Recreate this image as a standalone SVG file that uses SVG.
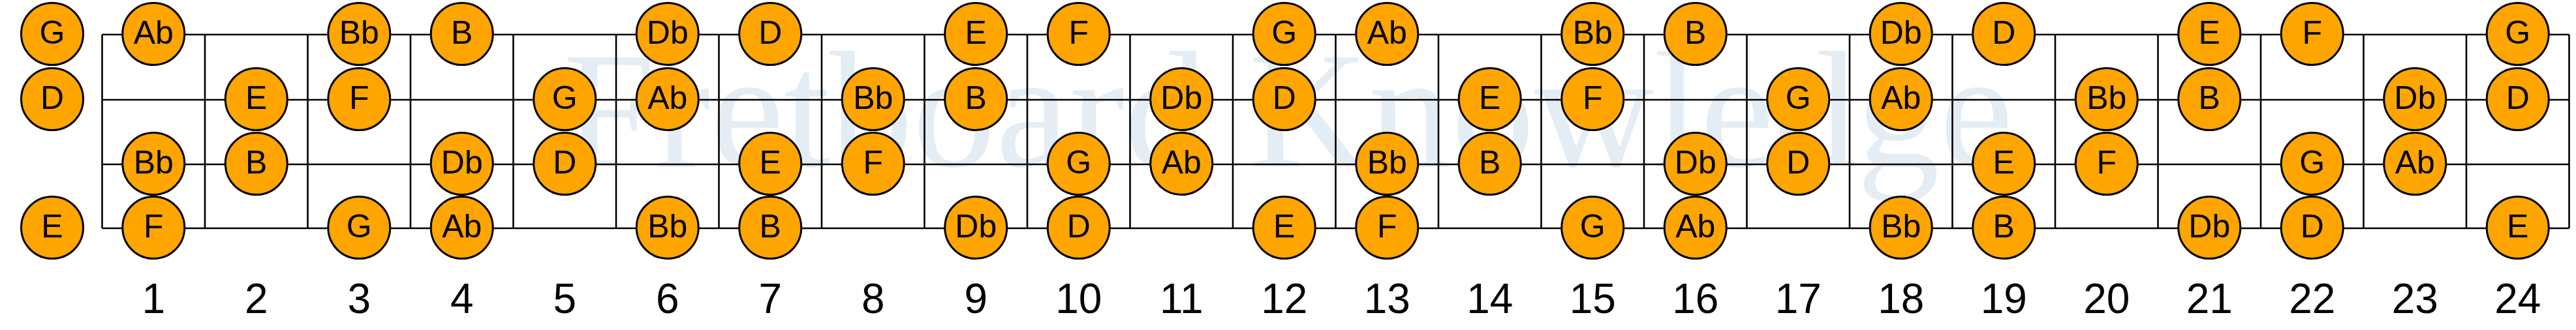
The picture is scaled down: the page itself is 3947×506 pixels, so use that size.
<svg xmlns="http://www.w3.org/2000/svg" width="3947" height="506" viewBox="0 0 3947 506">
<style>
.wm{font-family:"Liberation Serif","Times New Roman",serif;font-size:254px;fill:#e4edf4;text-anchor:middle}
.ln{stroke:#000;stroke-width:2.6;fill:none}
.nd circle{fill:#FFA500;stroke:#000;stroke-width:3}
.nd text{font-family:"Liberation Sans",Arial,sans-serif;font-size:50px;fill:#000;text-anchor:middle}
.num{font-family:"Liberation Sans",Arial,sans-serif;font-size:64px;fill:#000;text-anchor:middle}
</style>
<rect width="3947" height="506" fill="#fff"/>
<text class="wm" x="1973.5" y="255">Fretboard Knowledge</text>
<g id="connectors" class="ln">
<path d="M156.5 53H3936.5M156.5 153H3936.5M156.5 252H3936.5M156.5 350H3936.5"/>
<path d="M156.5 53V350M314 53V350M471.5 53V350M629 53V350M786.5 53V350M944 53V350M1101.5 53V350M1259 53V350M1416.5 53V350M1574 53V350M1731.5 53V350M1889 53V350M2046.5 53V350M2204 53V350M2361.5 53V350M2519 53V350M2676.5 53V350M2834 53V350M2991.5 53V350M3149 53V350M3306.5 53V350M3464 53V350M3621.5 53V350M3779 53V350M3936.5 53V350"/>
</g>
<g id="nodes" class="nd">
<g id="s1-f0"><circle cx="80" cy="52" r="47.5"/><text x="80" y="67">G</text></g>
<g id="s2-f0"><circle cx="80" cy="152" r="47.5"/><text x="80" y="167">D</text></g>
<g id="s4-f0"><circle cx="80" cy="349" r="47.5"/><text x="80" y="364">E</text></g>

<g id="s1-f1"><circle cx="235.25" cy="52" r="47.5"/><text x="235.25" y="67">Ab</text></g>
<g id="s1-f3"><circle cx="550.25" cy="52" r="47.5"/><text x="550.25" y="67">Bb</text></g>
<g id="s1-f4"><circle cx="707.75" cy="52" r="47.5"/><text x="707.75" y="67">B</text></g>
<g id="s1-f6"><circle cx="1022.75" cy="52" r="47.5"/><text x="1022.75" y="67">Db</text></g>
<g id="s1-f7"><circle cx="1180.25" cy="52" r="47.5"/><text x="1180.25" y="67">D</text></g>
<g id="s1-f9"><circle cx="1495.25" cy="52" r="47.5"/><text x="1495.25" y="67">E</text></g>
<g id="s1-f10"><circle cx="1652.75" cy="52" r="47.5"/><text x="1652.75" y="67">F</text></g>
<g id="s1-f12"><circle cx="1967.75" cy="52" r="47.5"/><text x="1967.75" y="67">G</text></g>
<g id="s1-f13"><circle cx="2125.25" cy="52" r="47.5"/><text x="2125.25" y="67">Ab</text></g>
<g id="s1-f15"><circle cx="2440.25" cy="52" r="47.5"/><text x="2440.25" y="67">Bb</text></g>
<g id="s1-f16"><circle cx="2597.75" cy="52" r="47.5"/><text x="2597.75" y="67">B</text></g>
<g id="s1-f18"><circle cx="2912.75" cy="52" r="47.5"/><text x="2912.75" y="67">Db</text></g>
<g id="s1-f19"><circle cx="3070.25" cy="52" r="47.5"/><text x="3070.25" y="67">D</text></g>
<g id="s1-f21"><circle cx="3385.25" cy="52" r="47.5"/><text x="3385.25" y="67">E</text></g>
<g id="s1-f22"><circle cx="3542.75" cy="52" r="47.5"/><text x="3542.75" y="67">F</text></g>
<g id="s1-f24"><circle cx="3857.75" cy="52" r="47.5"/><text x="3857.75" y="67">G</text></g>

<g id="s2-f2"><circle cx="392.75" cy="152" r="47.5"/><text x="392.75" y="167">E</text></g>
<g id="s2-f3"><circle cx="550.25" cy="152" r="47.5"/><text x="550.25" y="167">F</text></g>
<g id="s2-f5"><circle cx="865.25" cy="152" r="47.5"/><text x="865.25" y="167">G</text></g>
<g id="s2-f6"><circle cx="1022.75" cy="152" r="47.5"/><text x="1022.75" y="167">Ab</text></g>
<g id="s2-f8"><circle cx="1337.75" cy="152" r="47.5"/><text x="1337.75" y="167">Bb</text></g>
<g id="s2-f9"><circle cx="1495.25" cy="152" r="47.5"/><text x="1495.25" y="167">B</text></g>
<g id="s2-f11"><circle cx="1810.25" cy="152" r="47.5"/><text x="1810.25" y="167">Db</text></g>
<g id="s2-f12"><circle cx="1967.75" cy="152" r="47.5"/><text x="1967.75" y="167">D</text></g>
<g id="s2-f14"><circle cx="2282.75" cy="152" r="47.5"/><text x="2282.75" y="167">E</text></g>
<g id="s2-f15"><circle cx="2440.25" cy="152" r="47.5"/><text x="2440.25" y="167">F</text></g>
<g id="s2-f17"><circle cx="2755.25" cy="152" r="47.5"/><text x="2755.25" y="167">G</text></g>
<g id="s2-f18"><circle cx="2912.75" cy="152" r="47.5"/><text x="2912.75" y="167">Ab</text></g>
<g id="s2-f20"><circle cx="3227.75" cy="152" r="47.5"/><text x="3227.75" y="167">Bb</text></g>
<g id="s2-f21"><circle cx="3385.25" cy="152" r="47.5"/><text x="3385.25" y="167">B</text></g>
<g id="s2-f23"><circle cx="3700.25" cy="152" r="47.5"/><text x="3700.25" y="167">Db</text></g>
<g id="s2-f24"><circle cx="3857.75" cy="152" r="47.5"/><text x="3857.75" y="167">D</text></g>

<g id="s3-f1"><circle cx="235.25" cy="251" r="47.5"/><text x="235.25" y="266">Bb</text></g>
<g id="s3-f2"><circle cx="392.75" cy="251" r="47.5"/><text x="392.75" y="266">B</text></g>
<g id="s3-f4"><circle cx="707.75" cy="251" r="47.5"/><text x="707.75" y="266">Db</text></g>
<g id="s3-f5"><circle cx="865.25" cy="251" r="47.5"/><text x="865.25" y="266">D</text></g>
<g id="s3-f7"><circle cx="1180.25" cy="251" r="47.5"/><text x="1180.25" y="266">E</text></g>
<g id="s3-f8"><circle cx="1337.75" cy="251" r="47.5"/><text x="1337.75" y="266">F</text></g>
<g id="s3-f10"><circle cx="1652.75" cy="251" r="47.5"/><text x="1652.75" y="266">G</text></g>
<g id="s3-f11"><circle cx="1810.25" cy="251" r="47.5"/><text x="1810.25" y="266">Ab</text></g>
<g id="s3-f13"><circle cx="2125.25" cy="251" r="47.5"/><text x="2125.25" y="266">Bb</text></g>
<g id="s3-f14"><circle cx="2282.75" cy="251" r="47.5"/><text x="2282.75" y="266">B</text></g>
<g id="s3-f16"><circle cx="2597.75" cy="251" r="47.5"/><text x="2597.75" y="266">Db</text></g>
<g id="s3-f17"><circle cx="2755.25" cy="251" r="47.5"/><text x="2755.25" y="266">D</text></g>
<g id="s3-f19"><circle cx="3070.25" cy="251" r="47.5"/><text x="3070.25" y="266">E</text></g>
<g id="s3-f20"><circle cx="3227.75" cy="251" r="47.5"/><text x="3227.75" y="266">F</text></g>
<g id="s3-f22"><circle cx="3542.75" cy="251" r="47.5"/><text x="3542.75" y="266">G</text></g>
<g id="s3-f23"><circle cx="3700.25" cy="251" r="47.5"/><text x="3700.25" y="266">Ab</text></g>

<g id="s4-f1"><circle cx="235.25" cy="349" r="47.5"/><text x="235.25" y="364">F</text></g>
<g id="s4-f3"><circle cx="550.25" cy="349" r="47.5"/><text x="550.25" y="364">G</text></g>
<g id="s4-f4"><circle cx="707.75" cy="349" r="47.5"/><text x="707.75" y="364">Ab</text></g>
<g id="s4-f6"><circle cx="1022.75" cy="349" r="47.5"/><text x="1022.75" y="364">Bb</text></g>
<g id="s4-f7"><circle cx="1180.25" cy="349" r="47.5"/><text x="1180.25" y="364">B</text></g>
<g id="s4-f9"><circle cx="1495.25" cy="349" r="47.5"/><text x="1495.25" y="364">Db</text></g>
<g id="s4-f10"><circle cx="1652.75" cy="349" r="47.5"/><text x="1652.75" y="364">D</text></g>
<g id="s4-f12"><circle cx="1967.75" cy="349" r="47.5"/><text x="1967.75" y="364">E</text></g>
<g id="s4-f13"><circle cx="2125.25" cy="349" r="47.5"/><text x="2125.25" y="364">F</text></g>
<g id="s4-f15"><circle cx="2440.25" cy="349" r="47.5"/><text x="2440.25" y="364">G</text></g>
<g id="s4-f16"><circle cx="2597.75" cy="349" r="47.5"/><text x="2597.75" y="364">Ab</text></g>
<g id="s4-f18"><circle cx="2912.75" cy="349" r="47.5"/><text x="2912.75" y="364">Bb</text></g>
<g id="s4-f19"><circle cx="3070.25" cy="349" r="47.5"/><text x="3070.25" y="364">B</text></g>
<g id="s4-f21"><circle cx="3385.25" cy="349" r="47.5"/><text x="3385.25" y="364">Db</text></g>
<g id="s4-f22"><circle cx="3542.75" cy="349" r="47.5"/><text x="3542.75" y="364">D</text></g>
<g id="s4-f24"><circle cx="3857.75" cy="349" r="47.5"/><text x="3857.75" y="364">E</text></g>
</g>
<g id="fret-numbers" class="num">
<text x="235.25" y="480">1</text>
<text x="392.75" y="480">2</text>
<text x="550.25" y="480">3</text>
<text x="707.75" y="480">4</text>
<text x="865.25" y="480">5</text>
<text x="1022.75" y="480">6</text>
<text x="1180.25" y="480">7</text>
<text x="1337.75" y="480">8</text>
<text x="1495.25" y="480">9</text>
<text x="1652.75" y="480">10</text>
<text x="1810.25" y="480">11</text>
<text x="1967.75" y="480">12</text>
<text x="2125.25" y="480">13</text>
<text x="2282.75" y="480">14</text>
<text x="2440.25" y="480">15</text>
<text x="2597.75" y="480">16</text>
<text x="2755.25" y="480">17</text>
<text x="2912.75" y="480">18</text>
<text x="3070.25" y="480">19</text>
<text x="3227.75" y="480">20</text>
<text x="3385.25" y="480">21</text>
<text x="3542.75" y="480">22</text>
<text x="3700.25" y="480">23</text>
<text x="3857.75" y="480">24</text>
</g>
</svg>
